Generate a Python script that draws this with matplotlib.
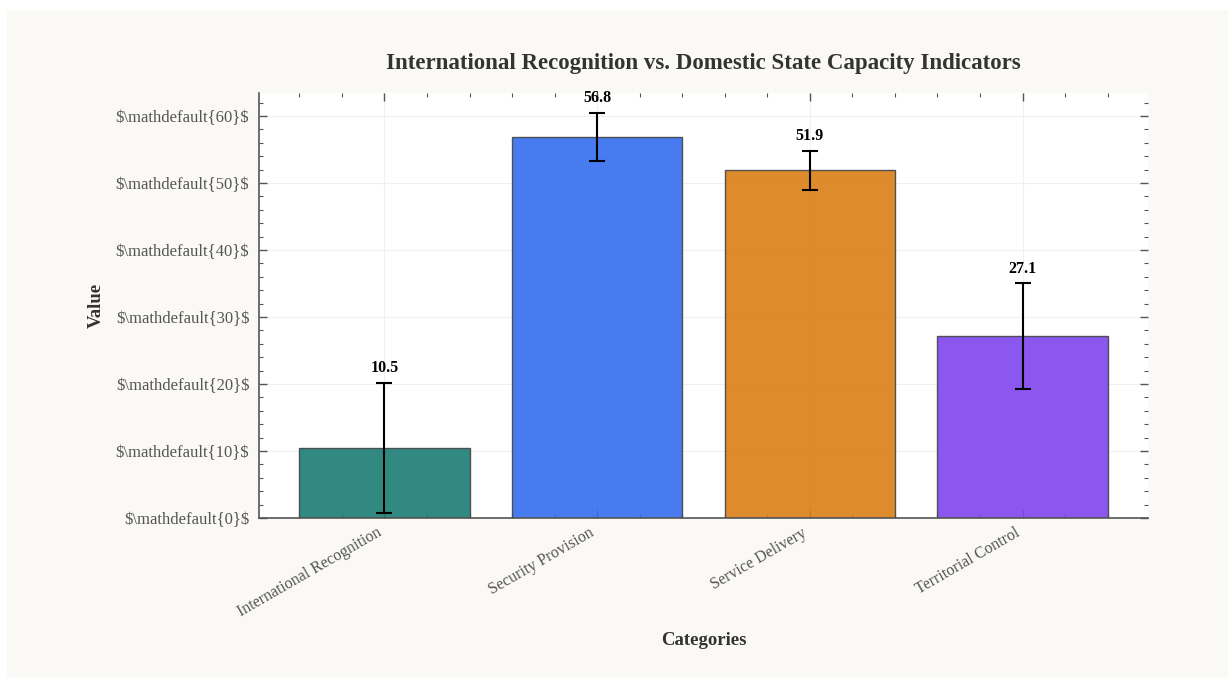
import numpy as np
import matplotlib
matplotlib.use("Agg")
import matplotlib.pyplot as plt
from matplotlib.ticker import AutoMinorLocator
from matplotlib.patches import Rectangle

categories = ["International Recognition", "Security Provision", "Service Delivery", "Territorial Control"]
values = [10.5, 56.8, 51.9, 27.1]
errors = [9.7, 3.6, 2.9, 7.9]
colors = ["#1a7c75", "#336dee", "#da7e15", "#7f45ee"]
ytick_vals = [0, 10, 20, 30, 40, 50, 60]

plt.rcParams['font.family'] = ['Liberation Serif', 'DejaVu Serif']

fig = plt.figure(figsize=(12.28, 6.77), dpi=100, facecolor="white")
fig.patches.append(Rectangle((7 / 1228, 0), 1, 1 - 10 / 677, transform=fig.transFigure,
                             facecolor="#faf9f6", edgecolor="none", zorder=-10))
ax = fig.add_axes([259 / 1228, 1 - 518 / 677, (1148 - 259) / 1228, (518 - 93) / 677])
ax.set_facecolor("white")

x = np.arange(len(categories))
ax.grid(True, color="#f0f0f0", linewidth=0.8, zorder=0)
ax.set_axisbelow(True)
ax.bar(x, values, width=0.8, color=colors, alpha=0.9, edgecolor="#444444", linewidth=1.0, zorder=2)
ax.errorbar(x, values, yerr=errors, fmt="none", ecolor="black", elinewidth=1.5,
            capsize=6, capthick=1.5, zorder=3)

for xi, v, e in zip(x, values, errors):
    ax.annotate(f"{v:.1f}", (xi, v + e), xytext=(0, 5), textcoords="offset points",
                ha="center", va="bottom", fontsize=11.5, fontweight="bold", color="black")

ax.set_xticks(x)
ax.set_xticklabels(categories, rotation=30, ha="right", fontsize=11.5, color="#444444")
ax.set_yticks(ytick_vals)
ax.set_yticklabels([r"\$\mathdefault{%d}\$" % t for t in ytick_vals], fontsize=12, color="#444444")
ax.xaxis.set_minor_locator(AutoMinorLocator(5))
ax.yaxis.set_minor_locator(AutoMinorLocator(5))

ax.tick_params(which="both", direction="in", top=True, right=True, colors="#555555")
ax.tick_params(which="major", length=6, width=1.0, pad=7)
ax.tick_params(which="minor", length=3, width=0.8)
ax.tick_params(axis="x", which="major", pad=5)

for s in ["top", "right"]:
    ax.spines[s].set_visible(False)
for s in ["left", "bottom"]:
    ax.spines[s].set_color("#555555")
    ax.spines[s].set_linewidth(1.2)

ax.set_title("International Recognition vs. Domestic State Capacity Indicators",
             fontsize=16.5, fontweight="bold", color="#333333", pad=17)
ax.set_xlabel("Categories", fontsize=13.5, fontweight="bold", color="#333333", labelpad=8)
ax.set_ylabel("Value", fontsize=13.5, fontweight="bold", color="#333333", labelpad=8)

fig.savefig("out.png", dpi=100, facecolor=fig.get_facecolor())
